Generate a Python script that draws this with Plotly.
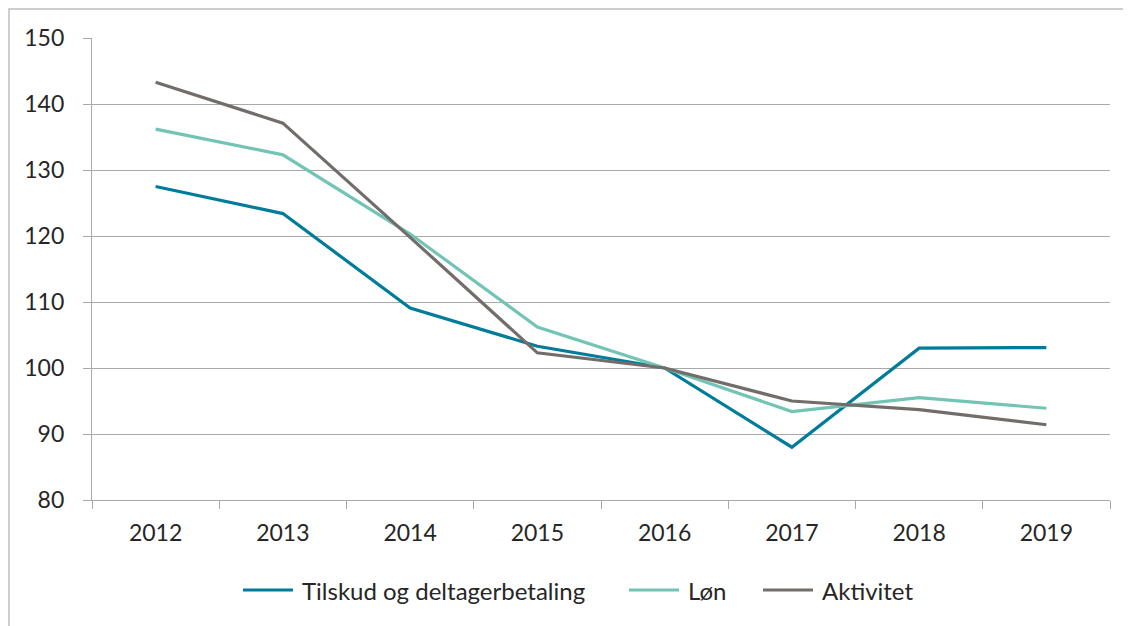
import plotly.graph_objects as go

years = ["2012", "2013", "2014", "2015", "2016", "2017", "2018", "2019"]
tilskud = [127.5, 123.4, 109.1, 103.3, 100.0, 88.0, 103.0, 103.1]
lon = [136.2, 132.3, 120.3, 106.2, 100.0, 93.4, 95.5, 93.9]
aktivitet = [143.3, 137.1, 119.8, 102.3, 100.0, 95.0, 93.7, 91.4]
y_ticks = [80, 90, 100, 110, 120, 130, 140, 150]

series = [
    ("Tilskud og deltagerbetaling", tilskud, "#007C9B"),
    ("Løn", lon, "#72C4B4"),
    ("Aktivitet", aktivitet, "#726D6A"),
]

# page offset (body margin) of 8px is accounted for in the margins
PL, PR, PT, PB = 92, 1110, 38, 500  # plot area in screen px
PW, PH = PR - PL, PB - PT


def px(sx):
    return (sx - PL) / PW


def py(sy):
    return (PB - sy) / PH


fig = go.Figure()
for name, vals, col in series:
    fig.add_trace(go.Scatter(x=years, y=vals, name=name, mode="lines",
                             line=dict(color=col, width=3.2), showlegend=False))

grid = "#A9A9A9"
txt = "#262626"
fam = "Lato, Carlito, Calibri, sans-serif"

# manual legend (line sample + label) matching the reference layout
legend_items = [(243, 293, 300), (629, 679, 686), (763, 813, 820)]
shapes = [dict(type="rect", xref="paper", yref="paper",
               x0=px(9), x1=px(1145), y0=py(640), y1=py(9),
               line=dict(color="#BFBFBF", width=1.5), fillcolor="rgba(0,0,0,0)", layer="below")]
annotations = []
for (name, _, col), (lx0, lx1, tx) in zip(series, legend_items):
    shapes.append(dict(type="line", xref="paper", yref="paper",
                       x0=px(lx0), x1=px(lx1), y0=py(590), y1=py(590),
                       line=dict(color=col, width=3.2)))
    annotations.append(dict(xref="paper", yref="paper", x=px(tx), y=py(590),
                            xanchor="left", yanchor="middle", showarrow=False,
                            text=name, font=dict(family=fam, size=24, color=txt)))

fig.update_layout(
    width=1131, height=626,
    margin=dict(l=PL - 8, r=1131 - (PR - 8), t=PT - 8, b=626 - (PB - 8)),
    paper_bgcolor="white", plot_bgcolor="white",
    font=dict(family=fam, size=23, color=txt),
    showlegend=False,
    xaxis=dict(type="category", showgrid=False, showline=True, linecolor=grid, linewidth=1.3,
               ticks="outside", tickson="boundaries", ticklen=8, tickcolor=grid, tickwidth=1.3,
               ticklabelstandoff=12, range=[-0.5, 7.5]),
    yaxis=dict(range=[80, 150], tickvals=y_ticks, showgrid=True, gridcolor=grid, gridwidth=1.3,
               showline=True, linecolor=grid, linewidth=1.3, ticks="outside", ticklen=8,
               tickcolor=grid, tickwidth=1.3, zeroline=False, ticklabelstandoff=14),
    shapes=shapes,
    annotations=annotations,
)
fig.write_html("out.html")
